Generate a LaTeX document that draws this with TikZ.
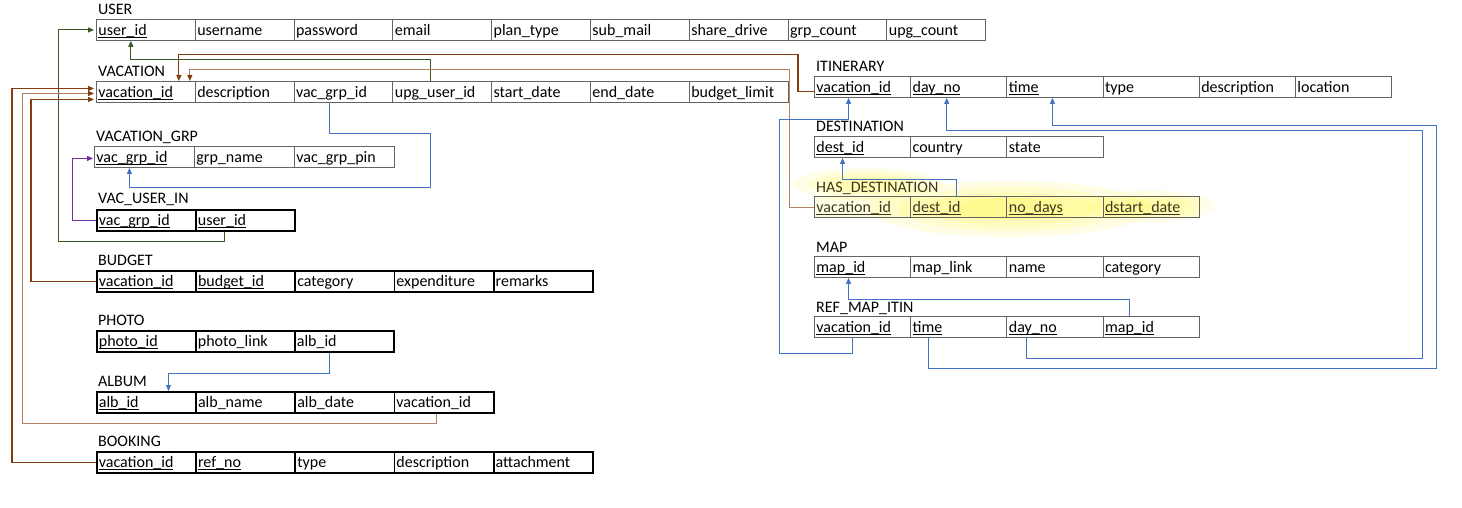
\documentclass[tikz,border=0pt]{standalone}
\usepackage{fontspec}
\setmainfont{Carlito}
\usepackage{xcolor}
\usetikzlibrary{arrows.meta,positioning,backgrounds}
\definecolor{brownc}{RGB}{132,60,12}
\definecolor{tanc}{RGB}{180,130,98}
\definecolor{greenc}{RGB}{56,87,35}
\definecolor{bluec}{RGB}{68,114,196}
\definecolor{purplec}{RGB}{112,48,160}
\definecolor{framec}{RGB}{100,100,100}
\definecolor{glowtext}{RGB}{60,55,35}
\newcommand{\pk}[1]{\setbox0\hbox{#1}\rlap{\rule[-2.2pt]{\wd0}{0.9pt}}\box0}
\tikzset{
  cell/.style={draw=framec, line width=0.9pt, anchor=north west, minimum height=21pt,
    inner xsep=2pt, inner ysep=0pt, text height=13pt, text depth=2pt, align=left},
  boldcell/.style={cell, draw=black, line width=1.7pt},
  title/.style={anchor=base west, inner sep=0pt},
  link/.style={line width=1.1pt, -{Triangle[length=6pt,width=5pt]}},
  brownlink/.style={link, draw=brownc},
  tanlink/.style={link, draw=tanc, line width=0.9pt, -{Triangle[length=6pt,width=5pt,color=brownc]}},
  greenlink/.style={link, draw=greenc, line width=1pt},
  bluelink/.style={link, draw=bluec, line width=1pt},
}
\begin{document}
\begin{tikzpicture}[x=1pt, y=-1pt, font=\fontsize{16}{19}\selectfont]
    \useasboundingbox (0,0) rectangle (1462,508);

    \node[title] (user-t) at (98,15) {USER};
    \foreach \f [count=\i] in {\pk{user\_id},username,password,email,plan\_type,sub\_mail,share\_drive,grp\_count,upg\_count}
        \node[cell, text width=94.8pt] (user-\i) at ({96+(\i-1)*98.8},19) {\f};

    \node[title] (vac-t) at (98,77) {VACATION};
    \foreach \f [count=\i] in {\pk{vacation\_id},description,vac\_grp\_id,upg\_user\_id,start\_date,end\_date,budget\_limit}
        \node[cell, text width=94.8pt] (vac-\i) at ({96+(\i-1)*98.8},81) {\f};

    \node[title] (vg-t) at (96,142) {VACATION\_GRP};
    \foreach \f [count=\i] in {\pk{vac\_grp\_id},grp\_name,vac\_grp\_pin}
        \node[cell, text width=96pt] (vg-\i) at ({94+(\i-1)*100},146) {\f};

    \node[title] (vui-t) at (98,204) {VAC\_USER\_IN};
    \foreach \f [count=\i] in {\pk{vac\_grp\_id},\pk{user\_id}}
        \node[boldcell, text width=95pt] (vui-\i) at ({96+(\i-1)*99},209) {\f};

    \node[title] (bud-t) at (98,265) {BUDGET};
    \foreach \f [count=\i] in {\pk{vacation\_id},\pk{budget\_id},category,expenditure,remarks}
        \node[boldcell, text width=95.2pt] (bud-\i) at ({96+(\i-1)*99.2},270) {\f};

    \node[title] (ph-t) at (98,325) {PHOTO};
    \foreach \f [count=\i] in {\pk{photo\_id},photo\_link,alb\_id}
        \node[boldcell, text width=95pt] (ph-\i) at ({96+(\i-1)*99},330) {\f};

    \node[title] (alb-t) at (98,386) {ALBUM};
    \foreach \f [count=\i] in {\pk{alb\_id},alb\_name,alb\_date,vacation\_id}
        \node[boldcell, text width=95.2pt] (alb-\i) at ({96+(\i-1)*99.2},391) {\f};

    \node[title] (book-t) at (98,446) {BOOKING};
    \foreach \f [count=\i] in {\pk{vacation\_id},\pk{ref\_no},type,description,attachment}
        \node[boldcell, text width=95.2pt] (book-\i) at ({96+(\i-1)*99.2},451) {\f};

    \node[title] (itin-t) at (816,72) {ITINERARY};
    \foreach \f [count=\i] in {\pk{vacation\_id},\pk{day\_no},\pk{time},type,description,location}
        \node[cell, text width=92.2pt] (itin-\i) at ({814+(\i-1)*96.2},76) {\f};

    \node[title] (dest-t) at (816,132) {DESTINATION};
    \foreach \f [count=\i] in {\pk{dest\_id},country,state}
        \node[cell, text width=92.2pt] (dest-\i) at ({814+(\i-1)*96.2},136) {\f};

    \node[title, text=glowtext] (hd-t) at (816,192) {HAS\_DESTINATION};
    \foreach \f [count=\i] in {\pk{vacation\_id},\pk{dest\_id},\pk{no\_days},\pk{dstart\_date}}
        \node[cell, text width=92.2pt, text=glowtext] (hd-\i) at ({814+(\i-1)*96.2},196) {\f};

    \node[title] (map-t) at (816,252) {MAP};
    \foreach \f [count=\i] in {\pk{map\_id},map\_link,name,category}
        \node[cell, text width=92.2pt] (map-\i) at ({814+(\i-1)*96.2},256) {\f};

    \node[title] (rmi-t) at (816,312) {REF\_MAP\_ITIN};
    \foreach \f [count=\i] in {\pk{vacation\_id},\pk{time},\pk{day\_no},\pk{map\_id}}
        \node[cell, text width=92.2pt] (rmi-\i) at ({814+(\i-1)*96.2},316) {\f};

    \begin{scope}[on background layer]
        \foreach \s in {1,0.8,0.6,0.4} {
            \fill[yellow, opacity=0.09] (868,184) ellipse ({75*\s} and {16*\s});
            \fill[yellow, opacity=0.10] (1010,209) ellipse ({140*\s} and {28*\s});
            \fill[yellow, opacity=0.07] (1150,206) ellipse ({65*\s} and {16*\s});
        }
        \fill[yellow, opacity=0.12] (hd-1.north west) rectangle (hd-4.south east);
    \end{scope}

    \draw[greenlink] ([xshift=-21pt]vui-2.south) -- ++(0,10) -| ([xshift=-38pt]user-1.west) -- ([xshift=-2pt]user-1.west);
    \draw[greenlink] ([xshift=-12pt]vac-4.north) -- ++(0,-21) -| ([xshift=-15pt]user-1.south);

    \draw[brownlink] ([yshift=-5pt]itin-1.west) -- ++(-16,0) -- ++(0,-37.5) -| ([xshift=33pt]vac-1.north);
    \draw[tanlink] (hd-1.west) -- ++(-25,0) -- ++(0,-137.5) -| ([xshift=44pt]vac-1.north);
    \draw[brownlink] (book-1.west) -| ([xshift=-84pt,yshift=3.5pt]vac-1.west) -- ([xshift=-2pt,yshift=3.5pt]vac-1.west);
    \draw[tanlink] ([xshift=-8pt]alb-4.south) -- ++(0,10) -| ([xshift=-74pt,yshift=-1.5pt]vac-1.west) -- ([xshift=-2pt,yshift=-1.5pt]vac-1.west);
    \draw[brownlink] (bud-1.west) -| ([xshift=-65pt,yshift=-7.5pt]vac-1.west) -- ([xshift=-2pt,yshift=-7.5pt]vac-1.west);

    \draw[bluelink] ([xshift=-14pt]vac-3.south) -- ++(0,31) -- ++(101,0) -- ++(0,54) -| ([xshift=-15pt]vg-1.south);
    \draw[link, draw=purplec, line width=1pt] (vui-1.west) -| ([xshift=-22pt,yshift=-1.5pt]vg-1.west) -- ([xshift=-1pt,yshift=-1.5pt]vg-1.west);
    \draw[bluelink] ([xshift=-14.5pt]ph-3.south) -- ++(0,21) -| ([xshift=22pt]alb-1.north);

    \draw[bluelink] ([xshift=-10pt]rmi-1.south) -- ++(0,16) -- ++(-73,0) -- ++(0,-234) -| ([xshift=-14pt]itin-1.south);
    \draw[bluelink] ([xshift=-28.5pt]rmi-3.south) -- ++(0,21) -- ++(396,0) -- ++(0,-228) -| ([xshift=-12pt]itin-2.south);
    \draw[bluelink] ([xshift=-30pt]rmi-2.south) -- ++(0,31) -- ++(508,0) -- ++(0,-243) -| ([xshift=-2.5pt]itin-3.south);
    \draw[bluelink] ([xshift=-2pt]hd-2.north) -- ++(0,-17) -| ([xshift=-20pt]dest-1.south);
    \draw[bluelink] ([xshift=-21.5pt]rmi-4.north) -- ++(0,-17) -| ([xshift=-14pt]map-1.south);
\end{tikzpicture}
\end{document}
